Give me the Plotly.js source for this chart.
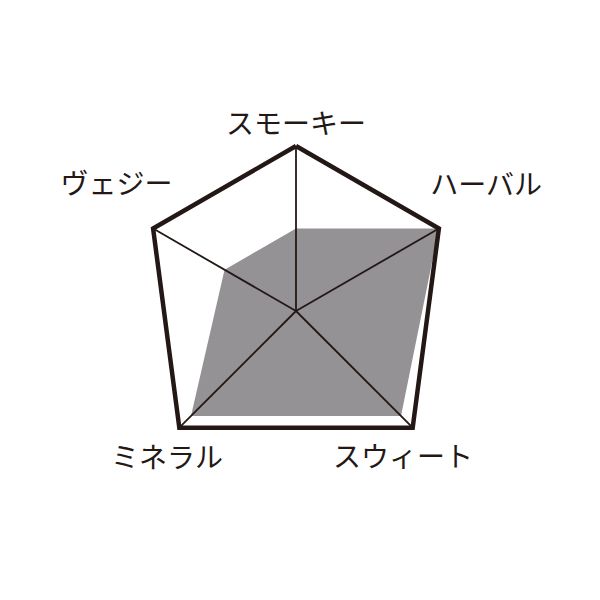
<!DOCTYPE html>
<html>
<head>
<meta charset="utf-8">
<script src="https://cdn.plot.ly/plotly-3.0.1.min.js"></script>
<style>
  html, body { margin: 0; padding: 0; background: #fff; }
  #plot { width: 600px; height: 600px; }
</style>
</head>
<body>
<div id="plot"></div>
<script>
// taste profile, 0-10 scale
var categories = ['スモーキー', 'ハーバル', 'スウィート', 'ミネラル', 'ヴェジー'];
var values = [5, 10, 9, 9, 5];
var maxValue = 10;

// the pentagon in the picture is not regular, so each spoke has its own angle
var spokeAngles = [90, 30, -45, -135, 150];
// where each category label sits (radius in value units, angle in degrees)
var labelR = [11.15, 13.72, 11.14, 11.97, 13.22];
var labelTheta = [90, 32.9, -54.4, -130.8, 145.4];
var outerRange = 14; // room for the labels

var ink = '#231815';

function closed(arr) { return arr.concat([arr[0]]); }

var spokeR = [], spokeTheta = [];
spokeAngles.forEach(function(a) {
    spokeR.push(0, maxValue, null);
    spokeTheta.push(a, a, null);
});

var trace_fill = {
    type: 'scatterpolar',
    r: closed(values),
    theta: closed(spokeAngles),
    mode: 'lines',
    fill: 'toself',
    fillcolor: '#959296',
    line: {width: 0, color: '#959296'},
    hoverinfo: 'skip'
};
var trace_spokes = {
    type: 'scatterpolar',
    r: spokeR,
    theta: spokeTheta,
    mode: 'lines',
    line: {width: 1.8, color: ink},
    hoverinfo: 'skip'
};
var trace_outline = {
    type: 'scatterpolar',
    r: closed(spokeAngles.map(function() { return maxValue; })),
    theta: closed(spokeAngles),
    mode: 'lines',
    line: {width: 4.5, color: ink},
    hoverinfo: 'skip'
};
var trace_labels = {
    type: 'scatterpolar',
    r: labelR,
    theta: labelTheta,
    mode: 'text',
    text: categories,
    textposition: 'middle center',
    textfont: {family: 'Noto Sans CJK JP', size: 28, color: ink},
    cliponaxis: false,
    hoverinfo: 'skip'
};

var layout = {
    width: 600,
    height: 600,
    margin: {l: 65, r: 73, t: 80, b: 58},
    paper_bgcolor: '#fff',
    showlegend: false,
    polar: {
        bgcolor: 'rgba(0,0,0,0)',
        radialaxis: {visible: false, range: [0, outerRange]},
        angularaxis: {visible: false, type: 'linear', thetaunit: 'degrees',
                      rotation: 0, direction: 'counterclockwise'}
    }
};

Plotly.newPlot('plot', [trace_fill, trace_spokes, trace_outline, trace_labels], layout,
    {displayModeBar: false, staticPlot: true});
</script>
</body>
</html>
